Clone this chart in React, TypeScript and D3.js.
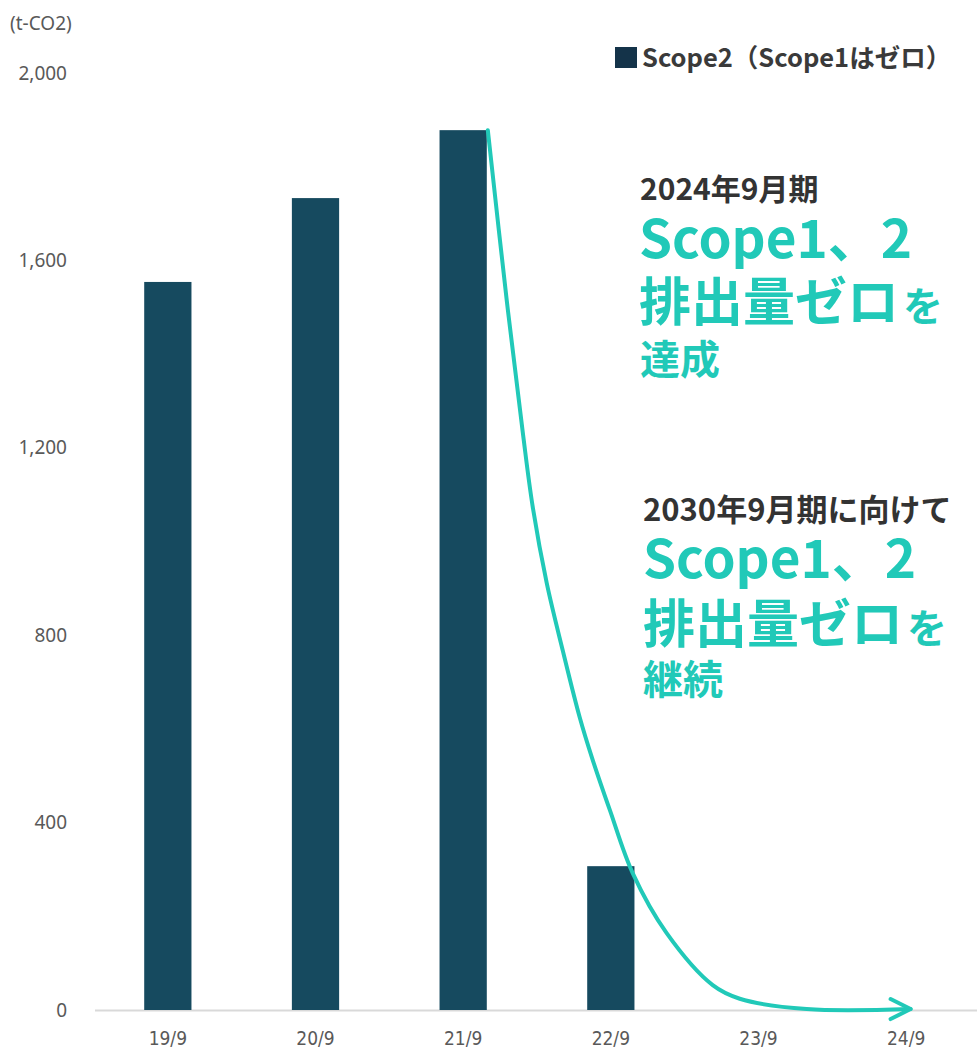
import React from "react";
import * as d3 from "d3";

const categories = ["19/9", "20/9", "21/9", "22/9", "23/9", "24/9"];
const scope2Values = [1554, 1733, 1878, 307, 0, 0];
const yTicks = [0, 400, 800, 1200, 1600, 2000];
// trend arrow path in data space: [category position (index), value]
const trendIdx = [2.167, 2.295, 2.404, 2.471, 2.566, 2.674, 2.789, 2.877, 2.993, 3.148, 3.378, 3.69, 3.873, 4.326, 5.03];
const trendVal = [1878, 1515, 1232, 1074, 911, 768, 625, 534, 427, 292, 164, 53, 24, 2, 2];

const W = 977;
const H = 1049;
const TEAL = "#21c9b8";
const BAR = "#164a5f";
const DARK = "#333333";
const JP = "'Noto Sans CJK JP', 'Noto Sans', sans-serif";

export default function App() {
  const x = d3.scaleBand<string>().domain(categories).range([94, 980]).padding(0);
  const xPos = d3.scaleLinear().domain([0, categories.length - 1])
    .range([x(categories[0])! + x.bandwidth() / 2, x(categories[categories.length - 1])! + x.bandwidth() / 2]);
  const y = d3.scaleLinear().domain([0, 2000]).range([1010, 73]);
  const barW = x.bandwidth() * 0.32;

  const pts: [number, number][] = trendIdx.map((t, i) => [xPos(t), y(trendVal[i])]);
  const line = d3.line().curve(d3.curveCatmullRom.alpha(0.5))(pts) || "";
  const tip = pts[pts.length - 1];

  return (
    <div style={{ position: "absolute", left: 0, top: 0 }}>
      <svg width={W} height={H} style={{ display: "block", background: "#fff" }}>
        <text x={10} y={30} fontFamily="'Noto Sans', sans-serif" fontSize={19} fill="#595959">(t-CO2)</text>
        {yTicks.map((t) => (
          <text key={t} x={67} y={y(t)} dy="0.35em" textAnchor="end" fontFamily="'Noto Sans', sans-serif" fontSize={19} fill="#595959">
            {d3.format(",")(t)}
          </text>
        ))}
        <line x1={95} x2={977} y1={y(0) + 0.5} y2={y(0) + 0.5} stroke="#d9d9d9" strokeWidth={2} />
        {categories.map((c, i) => (
          <g key={c}>
            {scope2Values[i] > 0 && (
              <rect x={x(c)! + x.bandwidth() / 2 - barW / 2} y={y(scope2Values[i])} width={barW}
                height={y(0) - y(scope2Values[i])} fill={BAR} />
            )}
            <text x={x(c)! + x.bandwidth() / 2} y={1045} textAnchor="middle"
              fontFamily="'Liberation Sans Narrow', 'DejaVu Sans Condensed', sans-serif" fontSize={19} fill="#595959">
              {c}
            </text>
          </g>
        ))}
        <path d={line} fill="none" stroke={TEAL} strokeWidth={4} strokeLinecap="round" />
        <path d={`M${tip[0] - 20},${tip[1] - 10} L${tip[0]},${tip[1]} L${tip[0] - 20},${tip[1] + 10}`}
          fill="none" stroke={TEAL} strokeWidth={4} strokeLinecap="round" strokeLinejoin="round" />

        {/* legend */}
        <rect x={615} y={47} width={22} height={21} fill="#143349" />
        <text x={642} y={67} fontFamily={JP} fontWeight={700} fontSize={25.5} fill="#3a3a3a">Scope2（Scope1はゼロ）</text>

        {/* annotation 1 */}
        <text x={640} y={200} fontFamily={JP} fontWeight={700} fontSize={30} fill={DARK}>2024年9月期</text>
        <text x={639} y={258} fontFamily={JP} fontWeight={700} fontSize={53} fill={TEAL}>Scope1、2</text>
        <text x={639} y={321} fontFamily={JP} fontWeight={700} fontSize={52} fill={TEAL}>
          排出量ゼロ<tspan dx={4} fontSize={40}>を</tspan>
        </text>
        <text x={640} y={374} fontFamily={JP} fontWeight={700} fontSize={40} fill={TEAL}>達成</text>

        {/* annotation 2 */}
        <text x={643} y={521} fontFamily={JP} fontWeight={700} fontSize={31} fill={DARK}>2030年9月期に向けて</text>
        <text x={643} y={578} fontFamily={JP} fontWeight={700} fontSize={53} fill={TEAL}>Scope1、2</text>
        <text x={643} y={643} fontFamily={JP} fontWeight={700} fontSize={52} fill={TEAL}>
          排出量ゼロ<tspan dx={4} fontSize={40}>を</tspan>
        </text>
        <text x={643} y={694} fontFamily={JP} fontWeight={700} fontSize={40} fill={TEAL}>継続</text>
      </svg>
    </div>
  );
}
